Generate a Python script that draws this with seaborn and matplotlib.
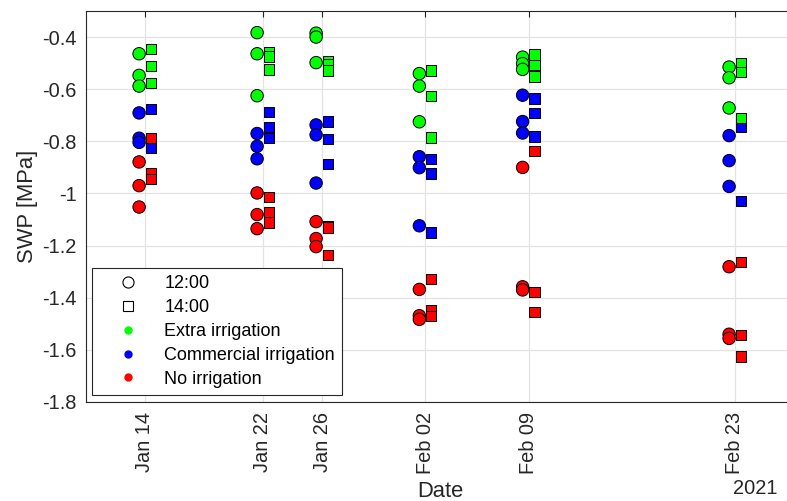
import matplotlib
matplotlib.use("Agg")
import matplotlib.pyplot as plt
import matplotlib.dates as mdates
from matplotlib.lines import Line2D
import numpy as np
import pandas as pd
import seaborn as sns

# Measurement dates (2021)
dates = ["2021-01-14", "2021-01-22", "2021-01-26", "2021-02-02", "2021-02-09", "2021-02-23"]

treatments = ["Commercial irrigation", "Extra irrigation", "No irrigation"]
colors = {"Extra irrigation": "#00ff00", "Commercial irrigation": "#0000ff", "No irrigation": "#ff0000"}

# Stem water potential [MPa], three vines per treatment and date
extra_1200 = [[-0.464, -0.547, -0.588], [-0.383, -0.464, -0.625], [-0.385, -0.400, -0.498],
              [-0.540, -0.588, -0.725], [-0.477, -0.502, -0.524], [-0.515, -0.556, -0.672]]
extra_1400 = [[-0.445, -0.510, -0.577], [-0.458, -0.475, -0.524], [-0.493, -0.505, -0.528],
              [-0.528, -0.625, -0.785], [-0.467, -0.506, -0.552], [-0.502, -0.533, -0.711]]
comm_1200 = [[-0.691, -0.788, -0.804], [-0.770, -0.819, -0.867], [-0.737, -0.775, -0.960],
             [-0.859, -0.901, -1.124], [-0.623, -0.724, -0.768], [-0.778, -0.874, -0.973]]
comm_1400 = [[-0.677, -0.805, -0.823], [-0.688, -0.745, -0.788], [-0.724, -0.791, -0.886],
             [-0.868, -0.924, -1.149], [-0.636, -0.692, -0.781], [-0.740, -0.745, -1.028]]
none_1200 = [[-0.879, -0.970, -1.052], [-0.998, -1.081, -1.135], [-1.108, -1.173, -1.204],
             [-1.368, -1.469, -1.483], [-0.900, -1.358, -1.370], [-1.281, -1.540, -1.556]]
none_1400 = [[-0.788, -0.924, -0.945], [-1.014, -1.073, -1.112], [-1.124, -1.130, -1.237],
             [-1.328, -1.447, -1.470], [-0.837, -1.378, -1.454], [-1.264, -1.544, -1.625]]

series = {
    ("12:00", "Commercial irrigation"): comm_1200,
    ("12:00", "Extra irrigation"): extra_1200,
    ("12:00", "No irrigation"): none_1200,
    ("14:00", "Commercial irrigation"): comm_1400,
    ("14:00", "Extra irrigation"): extra_1400,
    ("14:00", "No irrigation"): none_1400,
}
# small horizontal shift so the two measurement times sit side by side
shift = {"12:00": pd.Timedelta(hours=-9.6), "14:00": pd.Timedelta(hours=9.6)}

rows = []
for (time, trt), vals in series.items():
    for d, triple in zip(dates, vals):
        for v in triple:
            rows.append({"Date": pd.Timestamp(d) + shift[time], "SWP": v,
                         "Time": time, "Treatment": trt})
df = pd.DataFrame(rows)

sns.set_theme(style="white")
plt.rcParams["font.family"] = ["Liberation Sans", "DejaVu Sans"]
ink = "#262626"
tick_fs, label_fs, legend_fs = 14.4, 15.8, 13

fig = plt.figure(figsize=(7.87, 5.01), dpi=100)
ax = fig.add_axes([86 / 787, 99 / 501, 708 / 787, 391 / 501])

marker_of = {"12:00": "o", "14:00": "s"}
size_of = {"12:00": 80, "14:00": 56}
for time in ["12:00", "14:00"]:
    sub = df[df["Time"] == time]
    sns.scatterplot(data=sub, x="Date", y="SWP", hue="Treatment", hue_order=treatments,
                    palette=colors, marker=marker_of[time], s=size_of[time],
                    edgecolor="black", linewidth=0.7, legend=False, ax=ax, zorder=3)

ax.set_xlim(pd.Timestamp("2021-01-10"), pd.Timestamp("2021-02-27"))
ax.set_ylim(-1.8, -0.3)
ax.set_xticks([pd.Timestamp(d) for d in dates])
ax.xaxis.set_major_formatter(mdates.DateFormatter("%b %d"))
ax.set_yticks(np.arange(-1.8, -0.39, 0.2))
ax.set_yticklabels(["-1.8", "-1.6", "-1.4", "-1.2", "-1", "-0.8", "-0.6", "-0.4"])

ax.grid(True, color="#e3e3e3", linewidth=0.9)
ax.set_axisbelow(True)
for s in ax.spines.values():
    s.set_color(ink)
    s.set_linewidth(0.8)
ax.tick_params(axis="both", direction="in", length=4.5, width=0.8, color=ink,
               labelcolor=ink, labelsize=tick_fs, top=True, right=True)
ax.tick_params(axis="x", labelrotation=90, pad=7)
ax.tick_params(axis="y", pad=6.5)

ax.set_xlabel("Date", fontsize=label_fs, color=ink, labelpad=5)
ax.set_ylabel("SWP [MPa]", fontsize=label_fs, color=ink, labelpad=3)
fig.text(755 / 787, 1 - 489 / 501, "2021", ha="center", va="center", fontsize=tick_fs, color=ink)

handles = [
    Line2D([], [], ls="", marker="o", ms=8, mfc="white", mec="black", mew=0.8),
    Line2D([], [], ls="", marker="s", ms=7, mfc="white", mec="black", mew=0.8),
    Line2D([], [], ls="", marker="o", ms=5, mfc=colors["Extra irrigation"], mec=colors["Extra irrigation"]),
    Line2D([], [], ls="", marker="o", ms=5, mfc=colors["Commercial irrigation"], mec=colors["Commercial irrigation"]),
    Line2D([], [], ls="", marker="o", ms=5, mfc=colors["No irrigation"], mec=colors["No irrigation"]),
]
labels = ["12:00", "14:00", "Extra irrigation", "Commercial irrigation", "No irrigation"]
leg = ax.legend(handles, labels, loc="lower left",
                bbox_to_anchor=(6 / 708, 7 / 391), borderaxespad=0,
                fontsize=legend_fs, frameon=True, fancybox=False, framealpha=1,
                edgecolor=ink, handlelength=3.2, handletextpad=0.4,
                labelspacing=0.38, borderpad=0.4)
leg.get_frame().set_linewidth(0.8)
for t in leg.get_texts():
    t.set_color("black")

fig.savefig("out.png", dpi=100)
